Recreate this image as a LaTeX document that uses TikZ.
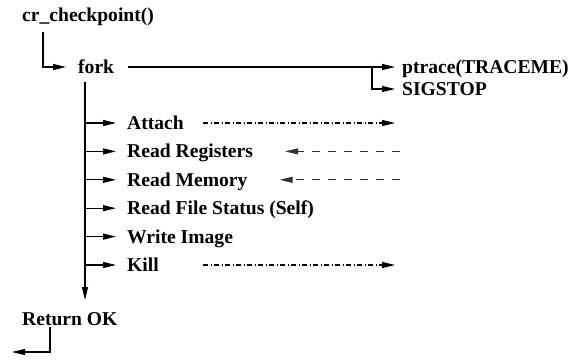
\documentclass[tikz,border=0pt]{standalone}
\usepackage{fontspec}
\setmainfont{Liberation Serif}
\usetikzlibrary{arrows.meta, positioning, calc}

\begin{document}
\begin{tikzpicture}[x=1pt, y=-1pt, font=\fontsize{19.6}{22}\selectfont\bfseries, >={Triangle[length=13pt,width=6pt]}, node distance=13pt]
  % Styles
  \tikzset{
    lbl/.style={anchor=west, inner sep=0pt, text height=14pt, text depth=1pt},
    arrow/.style={->, line width=1.1pt},
    dashdot/.style={arrow, dash pattern=on 5pt off 2.5pt on 1pt off 2.5pt},
    backdash/.style={arrow, dash pattern=on 8pt off 8pt, draw=black!80}
  }
  \useasboundingbox (0,0) rectangle (575,360);

  % Nodes
  \node[lbl] (cr) at (22,15) {cr\_checkpoint()};
  \node[lbl] (fork) at (78,67) {fork};
  \node[lbl] (ptrace) at (402,67) {ptrace(TRACEME)};
  \node[lbl] (sigstop) at (402,89) {SIGSTOP};

  \node[lbl] (attach) at (127,123) {Attach};
  \node[lbl, below=13pt of attach.south west, anchor=north west] (regs) {Read Registers};
  \node[lbl, below=13pt of regs.south west, anchor=north west] (mem) {Read Memory};
  \node[lbl, below=13pt of mem.south west, anchor=north west] (fstat) {Read File Status (Self)};
  \node[lbl, below=13pt of fstat.south west, anchor=north west] (wimg) {Write Image};
  \node[lbl, below=13pt of wimg.south west, anchor=north west] (kill) {Kill};

  \node[lbl] (ret) at (22,319) {Return OK};

  % Helper points
  \coordinate (crdown) at (43,32);
  \coordinate (crknee) at (43,67);
  \coordinate (sigknee) at (372,67);
  \coordinate (forkdown) at (85,82);
  \coordinate (forkend) at (85,300);
  \coordinate (dotstart) at (203,0);
  \coordinate (tipcol) at (395,0);
  \coordinate (dashstart) at (400,0);
  \coordinate (retknee) at (50,352);
  \coordinate (retend) at (12,352);

  % Arrows
  \draw[arrow] (crdown) -- (crknee) -- ([xshift=-12pt]fork.west);
  \draw[arrow] ([xshift=14pt]fork.east) -- ([xshift=-7pt]ptrace.west);
  \draw[arrow] (sigknee) |- ([xshift=-7pt]sigstop.west);
  \draw[arrow] (forkdown) -- (forkend);

  \draw[arrow] (attach.west -| forkdown) -- ([xshift=-11pt]attach.west);
  \draw[arrow] (regs.west -| forkdown) -- ([xshift=-11pt]regs.west);
  \draw[arrow] (mem.west -| forkdown) -- ([xshift=-11pt]mem.west);
  \draw[arrow] (fstat.west -| forkdown) -- ([xshift=-11pt]fstat.west);
  \draw[arrow] (wimg.west -| forkdown) -- ([xshift=-11pt]wimg.west);
  \draw[arrow] (kill.west -| forkdown) -- ([xshift=-11pt]kill.west);

  \draw[dashdot] (attach.west -| dotstart) -- (attach.west -| tipcol);
  \draw[backdash] (regs.west -| dashstart) -- ([xshift=32pt]regs.east);
  \draw[backdash] (mem.west -| dashstart) -- ([xshift=32pt]mem.east);
  \draw[dashdot] (kill.west -| dotstart) -- (kill.west -| tipcol);

  \draw[arrow] (ret.south -| retknee) -- (retknee) -- (retend);

\end{tikzpicture}
\end{document}
